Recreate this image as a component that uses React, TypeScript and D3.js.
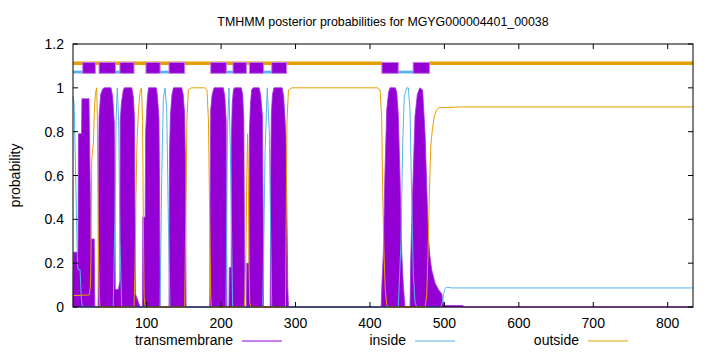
import * as d3 from "d3";

// residue range of the protein and axis ticks
const xDomain: [number, number] = [1, 834];
const xTicks = [100, 200, 300, 400, 500, 600, 700, 800];
const yTicks = [0, 0.2, 0.4, 0.6, 0.8, 1, 1.2];

// posterior probabilities, [residue, probability]
const transmembrane: [number, number][] = [
  [1, 0], [2, 0.25], [7.8, 0.25], [8.3, 0.79], [12.5, 0.79], [13, 0.95], [22.5, 0.95], [23.5, 0.7], [25, 0.31], [29.5, 0.31], [30.3, 0],
  [34.8, 0], [35.3, 0.6], [36, 0.87], [38.2, 0.97], [41, 0.995], [43, 1], [52, 1], [54.3, 0.96], [56.5, 0.84], [57.3, 0.5], [57.8, 0.08], [62, 0.08],
  [63, 0.1], [64, 0.12], [64.5, 0.85], [66, 0.93], [68.6, 0.99], [70, 1], [79.9, 1], [82, 0.96], [83.5, 0.87], [84.3, 0.4], [84.8, 0.06], [88, 0.03], [91, 0],
  [94.3, 0], [94.8, 0.41], [98, 0.41], [98.6, 0.8], [100.8, 0.95], [102.5, 1], [113, 1], [114.5, 0.96], [116.5, 0.86], [117.4, 0.5], [118, 0],
  [130, 0], [130.6, 0.7], [132, 0.88], [134, 0.97], [136, 1], [147, 1], [149, 0.97], [151, 0.88], [152.3, 0.6], [152.9, 0],
  [184.8, 0], [185.3, 0.5], [186, 0.9], [188, 0.97], [190.5, 1], [203, 1], [205, 0.96], [206.8, 0.85], [207.4, 0.4], [207.8, 0],
  [210.5, 0], [211, 0.18], [213.5, 0.18], [214, 0.8], [215, 0.93], [216.5, 0.99], [218, 1], [227, 1], [229, 0.97], [230.5, 0.85], [231.2, 0.4], [231.6, 0],
  [234, 0], [234.5, 0.2], [237.5, 0.2], [238, 0.8], [239.5, 0.93], [241, 0.99], [243, 1], [251, 1], [253, 0.97], [255.5, 0.87], [256.5, 0.4], [257, 0],
  [266, 0], [266.6, 0.6], [267.5, 0.88], [269, 0.97], [271, 1], [282, 1], [284, 0.96], [285.5, 0.88], [287, 0.78], [288.5, 0.4], [289.5, 0.1], [290.5, 0],
  [415, 0], [416, 0.1], [418, 0.25], [420, 0.6], [422.5, 0.9], [425, 0.98], [427, 1], [434, 1], [436, 0.98], [438, 0.88], [440.3, 0.6], [442.6, 0.25], [444.8, 0.1], [447, 0],
  [453.8, 0], [454.7, 0.21], [457.4, 0.53], [460.5, 0.87], [463.6, 0.97], [467, 1], [470.8, 0.99], [471.7, 0.93], [474, 0.79], [476.2, 0.56], [478.4, 0.32],
  [480.6, 0.23], [482.9, 0.17], [487.4, 0.11], [491.9, 0.08], [496.4, 0.06], [498.5, 0.02], [500, 0.007], [525, 0.007], [526, 0], [834, 0],
];

const inside: [number, number][] = [
  [1, 0.96], [2.5, 0.93], [4, 0.7], [5.5, 0.45], [7, 0.2], [8, 0.17], [10.5, 0.17], [12, 0.05], [13.5, 0],
  [55, 0], [57.4, 0.4], [58.8, 0.85], [60.5, 1], [62.4, 0.85], [64.1, 0.3], [66.4, 0],
  [118, 0], [120.2, 0.6], [122.4, 0.95], [124.6, 1], [126.9, 0.9], [129.1, 0.4], [131.3, 0],
  [206.6, 0], [208.5, 0.8], [210.6, 1], [212.5, 0.7], [215.5, 0],
  [256, 0], [259, 0.7], [262, 1], [264.7, 0.8], [268, 0],
  [438, 0], [441.7, 0.3], [444, 0.75], [446.1, 0.96], [449.3, 1], [451.5, 1], [453.8, 0.9], [456, 0.5], [458.2, 0.15], [460.5, 0.02], [462.7, 0],
  [495, 0], [497, 0.02], [499, 0.06], [501, 0.085], [503, 0.09], [510, 0.087], [834, 0.087],
];

const outside: [number, number][] = [
  [1, 0.052], [23, 0.055], [24.5, 0.1], [25.2, 0.23], [26.1, 0.67], [27, 0.7], [28.3, 0.74], [29.6, 0.88], [31, 0.97], [32.8, 1], [33.7, 0.87], [35, 0.3], [36.3, 0.05], [37.3, 0],
  [83, 0], [84.5, 0.2], [85.5, 0.5], [87, 0.75], [89, 0.9], [91, 0.98], [93, 1], [94.5, 0.85], [95.5, 0.4], [96.5, 0.05], [98, 0],
  [151, 0], [152.5, 0.4], [154, 0.85], [156, 0.99], [160, 1], [178, 1], [181, 0.99], [183, 0.85], [184.5, 0.45], [186, 0.05], [187, 0],
  [231, 0], [232, 0.05], [233.5, 0.3], [234.5, 0.6], [235.5, 0.79], [236.5, 0.6], [237.5, 0.2], [238.5, 0.02], [240, 0],
  [286.5, 0], [287.5, 0.45], [288.5, 0.85], [290.5, 0.99], [295, 1], [410, 1], [413.5, 0.99], [415.7, 0.87], [417, 0.55], [418.8, 0.25], [420.5, 0.08], [422.5, 0.01], [424, 0],
  [474, 0], [476.2, 0.05], [478, 0.25], [479.7, 0.5], [481.6, 0.73], [483.8, 0.81], [486.5, 0.87], [489.6, 0.9], [492.7, 0.91], [503, 0.91], [525, 0.913], [834, 0.913],
];

// predicted topology drawn above the curves
const tmSegments: [number, number][] = [
  [14, 31], [36, 58], [64, 83], [99, 118], [130, 151], [186, 207], [216, 234], [238, 257], [268, 288], [416, 438], [458, 480],
];
const insideSegments: [number, number][] = [
  [1, 14], [58, 64], [118, 130], [207, 216], [257, 268], [438, 458],
];
const outsideSegments: [number, number][] = [
  [1, 416], [480, 834],
];

const legendLabels = ["transmembrane", "inside", "outside"];

const W = 720;
const H = 352;
const margin = { top: 44, right: 27, bottom: 45, left: 73 };
const font = "'Liberation Sans', Arial, sans-serif";
const TM_COLOR = "#9400D3";
const IN_COLOR = "#56B4E9";
const OUT_COLOR = "#E69F00";
const legendColors = [TM_COLOR, IN_COLOR, OUT_COLOR];

export default function App() {
  const x = d3.scaleLinear().domain(xDomain).range([margin.left, W - margin.right]);
  const y = d3.scaleLinear().domain([0, 1.2]).range([H - margin.bottom, margin.top]);

  const area = d3.area<[number, number]>()
    .x(d => x(d[0]))
    .y0(y(0))
    .y1(d => y(d[1]));
  const line = d3.line<[number, number]>()
    .x(d => x(d[0]))
    .y(d => y(d[1]));

  const x0 = margin.left, x1 = W - margin.right;
  const y0 = H - margin.bottom, y1 = margin.top;
  const tick = 5;

  // legend layout (text right aligned, then sample line)
  const legendTextEnd = [233, 406, 579];

  return (
    <svg width={W} height={H} style={{ position: "absolute", left: 0, top: 0, background: "#fff" }}
      fontFamily={font}>
      <rect width={W} height={H} fill="#fff" />
      <text x={(x0 + x1) / 2} y={26} fontSize={12.4} textAnchor="middle">
        TMHMM posterior probabilities for MGYG000004401_00038
      </text>

      <path d={area(transmembrane) ?? ""} fill={TM_COLOR} stroke="#a030dc" strokeWidth={0.8} strokeLinejoin="round" />
      <path d={line(inside) ?? ""} fill="none" stroke={IN_COLOR} strokeWidth={1} />
      <path d={line(outside) ?? ""} fill="none" stroke={OUT_COLOR} strokeWidth={1} />

      {outsideSegments.map(([a, b], i) => (
        <line key={"o" + i} x1={x(a)} x2={x(b)} y1={y(1.112)} y2={y(1.112)} stroke={OUT_COLOR} strokeWidth={3.5} />
      ))}
      {insideSegments.map(([a, b], i) => (
        <line key={"i" + i} x1={x(a)} x2={x(b)} y1={y(1.072)} y2={y(1.072)} stroke={IN_COLOR} strokeWidth={2.8} />
      ))}
      {tmSegments.map(([a, b], i) => (
        <rect key={"t" + i} x={x(a)} width={x(b) - x(a)} y={y(1.116)} height={y(1.066) - y(1.116)}
          fill={TM_COLOR} stroke="#c07de8" strokeWidth={1} />
      ))}

      {/* ticks, mirrored on all sides */}
      <g stroke="#000" strokeWidth={1}>
        {xTicks.map(t => (
          <g key={"xt" + t}>
            <line x1={x(t)} x2={x(t)} y1={y0} y2={y0 - tick} />
            <line x1={x(t)} x2={x(t)} y1={y1} y2={y1 + tick} />
          </g>
        ))}
        {yTicks.map(t => (
          <g key={"yt" + t}>
            <line x1={x0} x2={x0 + tick} y1={y(t)} y2={y(t)} />
            <line x1={x1} x2={x1 - tick} y1={y(t)} y2={y(t)} />
          </g>
        ))}
      </g>
      <rect x={x0} y={y1} width={x1 - x0} height={y0 - y1} fill="none" stroke="#000" strokeWidth={1} />

      <g fontSize={14}>
        {xTicks.map(t => (
          <text key={"xl" + t} x={x(t)} y={328} textAnchor="middle">{t}</text>
        ))}
        {yTicks.map(t => (
          <text key={"yl" + t} x={64} y={y(t) + 5} textAnchor="end">{d3.format("~g")(t)}</text>
        ))}
        <text transform={`translate(20,${(y0 + y1) / 2}) rotate(-90)`} textAnchor="middle">probability</text>
      </g>

      <g fontSize={14}>
        {legendLabels.map((lab, i) => (
          <g key={lab}>
            <text x={legendTextEnd[i]} y={345} textAnchor="end">{lab}</text>
            <line x1={legendTextEnd[i] + 9} x2={legendTextEnd[i] + 49} y1={341} y2={341} stroke={legendColors[i]} strokeWidth={1} />
          </g>
        ))}
      </g>
    </svg>
  );
}
